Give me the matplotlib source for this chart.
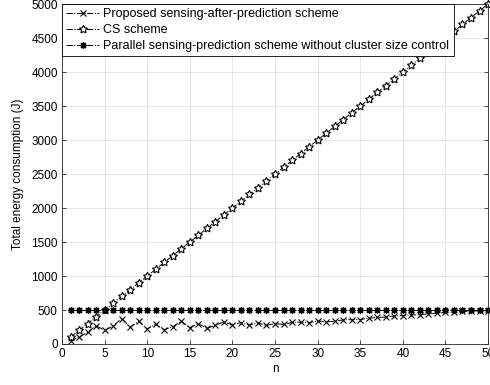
import matplotlib
matplotlib.use("Agg")
import matplotlib.pyplot as plt

plt.rcParams['font.family'] = ['Liberation Sans', 'DejaVu Sans']

# data
n = list(range(1, 51))
proposed = [50, 100, 170, 270, 200, 265, 375, 245, 335, 220,
            290, 210, 255, 335, 240, 300, 230, 275, 325, 280,
            315, 278, 308, 275, 300, 288, 318, 322, 312, 340,
            325, 335, 355, 358, 360, 380, 390, 395, 412, 418,
            428, 430, 443, 452, 465, 472, 478, 482, 488, 492]
cs = [100, 200, 300, 400, 500, 600, 700, 800, 900, 1000,
      1100, 1200, 1300, 1400, 1500, 1600, 1700, 1800, 1900, 2000,
      2100, 2200, 2300, 2400, 2500, 2600, 2700, 2800, 2900, 3000,
      3100, 3200, 3300, 3400, 3500, 3600, 3700, 3800, 3900, 4000,
      4100, 4200, 4300, 4400, 4500, 4600, 4700, 4800, 4900, 5000]
parallel = [500, 500, 500, 500, 500, 500, 500, 500, 500, 500,
            500, 500, 500, 500, 500, 500, 500, 500, 500, 500,
            500, 500, 500, 500, 500, 500, 500, 500, 500, 500,
            500, 500, 500, 500, 500, 500, 500, 500, 500, 500,
            500, 500, 500, 500, 500, 500, 500, 500, 500, 500]
labels = ['Proposed sensing-after-prediction scheme',
          'CS scheme',
          'Parallel sensing-prediction scheme without cluster size control']

fig = plt.figure(figsize=(4.9, 3.85), dpi=100)
ax = fig.add_axes([0.1265, 0.1065, 0.8695, 0.883])

ax.plot(n, proposed, color='black', ls='-.', lw=0.7, marker='x',
        ms=4.5, mew=0.8, label=labels[0], clip_on=False)
ax.plot(n, cs, color='black', ls='-.', lw=0.7, marker=(5, 1, 0),
        ms=6, mfc='white', mew=0.8, label=labels[1], clip_on=False)
ax.plot(n, parallel, color='black', ls='-.', lw=0.7, marker=(8, 2, 0),
        ms=5, mew=0.9, label=labels[2], clip_on=False)

ax.set_xlim(0, 50)
ax.set_ylim(0, 5000)
ax.set_xticks(range(0, 51, 5))
ax.set_yticks(range(0, 5001, 500))
ax.grid(True, color='#e3e3e3', lw=0.6)
ax.set_axisbelow(True)
ax.tick_params(direction='in', top=True, right=True, labelsize=8.5,
               length=3, width=0.6, color='#262626', pad=3)
for s in ax.spines.values():
    s.set_linewidth(0.6)
    s.set_color('#262626')

ax.set_xlabel('n', fontsize=8.5, labelpad=2)
ax.set_ylabel('Total energy consumption (J)', fontsize=8.5, labelpad=5)

# legend box in the upper left corner, opaque
leg = ax.legend(loc='upper left', fontsize=9, frameon=True, fancybox=False,
                framealpha=1.0, edgecolor='black', borderaxespad=0.0,
                handlelength=2.6, handletextpad=0.35, borderpad=0.35,
                labelspacing=0.3)
leg.get_frame().set_linewidth(0.6)
leg.set_zorder(10)

fig.savefig('out.png', dpi=100)
